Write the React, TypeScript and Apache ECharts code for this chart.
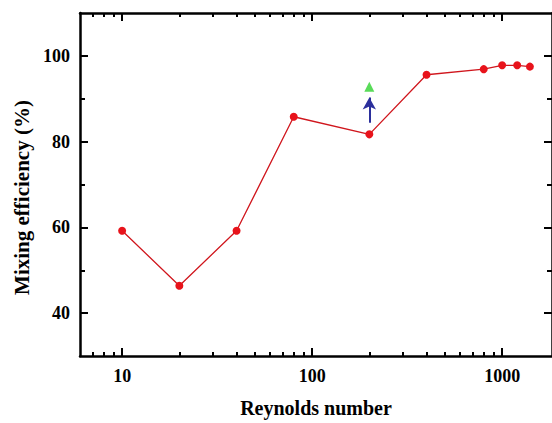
import React, { useEffect, useRef } from "react";
import * as echarts from "echarts";

const reynolds = [10, 20, 40, 80, 200, 400, 800, 1000, 1200, 1400];
const efficiency = [59.2, 46.4, 59.2, 85.8, 81.7, 95.6, 96.9, 97.8, 97.8, 97.5];
const improvedRe = [200];
const improvedEff = [92.8];
const arrowFrom = [200, 84.4];
const arrowTo = [200, 90.3];

const xMajorTicks = [10, 100, 1000];
const xMinorTicks = [7, 8, 9, 20, 30, 40, 50, 60, 70, 80, 90, 200, 300, 400, 500, 600, 700, 800, 900];
const yMajorTicks = [40, 60, 80, 100];
const yMinorTicks = [50, 70, 90];

const X_MIN = 6.0;
const X_MAX = 1830;
const Y_MIN = 30;
const Y_MAX = 110;

const FONT = "'Liberation Serif', 'Times New Roman', serif";

export default function App() {
  const ref = useRef<HTMLDivElement>(null);
  useEffect(() => {
    if (!ref.current) return;
    const chart = echarts.init(ref.current, undefined, { renderer: "svg" });
    const lineBlack = { color: "#000", width: 2.5 };
    const tickStyle = { color: "#000", width: 2 };
    const baseX = {
      type: "log" as const,
      logBase: 10,
      min: X_MIN,
      max: X_MAX,
      splitLine: { show: false },
      minorTick: { show: false },
    };
    const baseY = {
      type: "value" as const,
      min: Y_MIN,
      max: Y_MAX,
      splitLine: { show: false },
      minorTick: { show: false },
    };
    const option: any = {
      animation: false,
      backgroundColor: "#fff",
      grid: { left: 80, top: 13, right: -2, bottom: 61, containLabel: false },
      xAxis: [
        {
          ...baseX,
          position: "bottom",
          axisLine: { show: true, onZero: false, lineStyle: lineBlack },
          axisTick: { show: true, inside: true, length: 8, customValues: xMajorTicks, lineStyle: tickStyle },
          axisLabel: {
            show: true,
            customValues: xMajorTicks,
            formatter: (v: number) => String(Math.round(v)),
            fontFamily: FONT,
            fontWeight: "bold",
            fontSize: 18,
            color: "#000",
            margin: 11,
          },
          name: "Reynolds number",
          nameLocation: "middle",
          nameGap: 42,
          nameTextStyle: { fontFamily: FONT, fontWeight: "bold", fontSize: 20, color: "#000" },
        },
        {
          ...baseX,
          position: "bottom",
          axisLine: { show: false, onZero: false },
          axisTick: { show: true, inside: true, length: 4, customValues: xMinorTicks, lineStyle: tickStyle },
          axisLabel: { show: false },
        },
        {
          ...baseX,
          position: "top",
          axisLine: { show: true, onZero: false, lineStyle: lineBlack },
          axisTick: { show: true, inside: true, length: 8, customValues: xMajorTicks, lineStyle: tickStyle },
          axisLabel: { show: false },
        },
        {
          ...baseX,
          position: "top",
          axisLine: { show: false, onZero: false },
          axisTick: { show: true, inside: true, length: 4, customValues: xMinorTicks, lineStyle: tickStyle },
          axisLabel: { show: false },
        },
      ],
      yAxis: [
        {
          ...baseY,
          position: "left",
          axisLine: { show: true, onZero: false, lineStyle: lineBlack },
          axisTick: { show: true, inside: true, length: 8, customValues: yMajorTicks, lineStyle: tickStyle },
          axisLabel: {
            show: true,
            customValues: yMajorTicks,
            fontFamily: FONT,
            fontWeight: "bold",
            fontSize: 18,
            color: "#000",
            margin: 10,
          },
          name: "Mixing efficiency (%)",
          nameLocation: "middle",
          nameGap: 47,
          nameRotate: 90,
          nameTextStyle: {
            fontFamily: FONT,
            fontWeight: "bold",
            fontSize: 21,
            color: "#000",
            padding: [0, 26, 0, 0],
          },
        },
        {
          ...baseY,
          position: "left",
          axisLine: { show: false, onZero: false },
          axisTick: { show: true, inside: true, length: 5, customValues: yMinorTicks, lineStyle: tickStyle },
          axisLabel: { show: false },
        },
        {
          ...baseY,
          position: "right",
          axisLine: { show: true, onZero: false, lineStyle: lineBlack },
          axisTick: { show: true, inside: true, length: 8, customValues: yMajorTicks, lineStyle: tickStyle },
          axisLabel: { show: false },
        },
        {
          ...baseY,
          position: "right",
          axisLine: { show: false, onZero: false },
          axisTick: { show: true, inside: true, length: 5, customValues: yMinorTicks, lineStyle: tickStyle },
          axisLabel: { show: false },
        },
      ],
      series: [
        {
          type: "line",
          xAxisIndex: 0,
          yAxisIndex: 0,
          data: reynolds.map((r, i) => [r, efficiency[i]]),
          symbol: "circle",
          symbolSize: 8,
          lineStyle: { color: "#d0161d", width: 1.3 },
          itemStyle: { color: "#e8131b" },
          z: 3,
        },
        {
          type: "scatter",
          xAxisIndex: 0,
          yAxisIndex: 0,
          data: improvedRe.map((r, i) => [r, improvedEff[i]]),
          symbol: "triangle",
          symbolSize: 10,
          itemStyle: { color: "#2fd22f" },
          markLine: {
            silent: true,
            symbol: ["none", "arrow"],
            symbolSize: [10, 12],
            label: { show: false },
            lineStyle: { color: "#2b2f9c", width: 2, type: "solid" },
            data: [[{ coord: arrowFrom }, { coord: arrowTo }]],
          },
        },
      ],
    };
    chart.setOption(option);
    return () => chart.dispose();
  }, []);
  return (
    <div
      ref={ref}
      style={{ position: "fixed", left: 0, top: 0, width: 552, height: 423, background: "#fff" }}
    />
  );
}
